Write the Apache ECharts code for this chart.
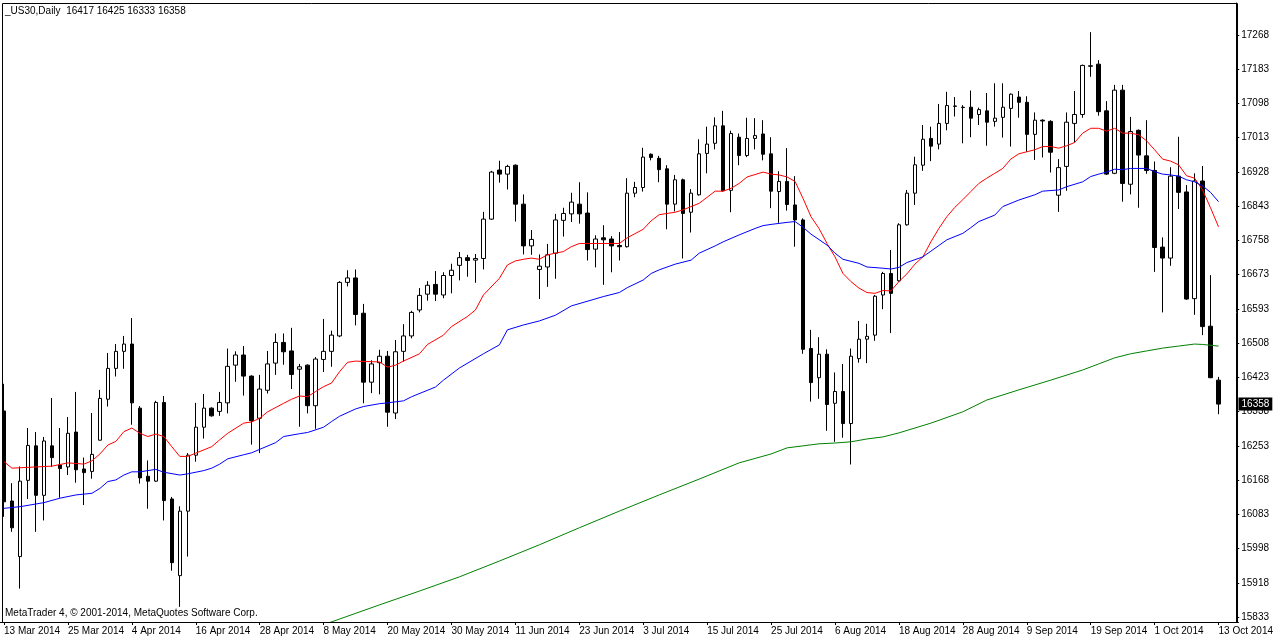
<!DOCTYPE html>
<html><head><meta charset="utf-8">
<script src="https://cdn.jsdelivr.net/npm/echarts@6/dist/echarts.min.js"></script>
<style>html,body{margin:0;padding:0;background:#fff}#c{width:1276px;height:639px}</style>
</head><body><div id="c"></div>
<script>
// ---- categories: trading days (Mon-Fri) 13 Mar 2014 .. 13 Oct 2014
const MONTHS = ['Jan','Feb','Mar','Apr','May','Jun','Jul','Aug','Sep','Oct','Nov','Dec'];
function buildDates() {
  const out = [];
  let t = Date.UTC(2014, 2, 13);
  const end = Date.UTC(2014, 9, 13);
  while (t <= end) {
    const d = new Date(t);
    const wd = d.getUTCDay();
    if (wd !== 0 && wd !== 6) out.push(d.getUTCDate() + ' ' + MONTHS[d.getUTCMonth()] + ' 2014');
    t += 86400000;
  }
  return out;
}
const dates = buildDates();

// ---- OHLC values
const opens = [16341,16119,15982,16170,16255,16133,16255,16208,16203,16289,16198,16192,16269,16370,16446,16488,16506,16348,16180,16168,
16362,16124,15935,16094,16232,16301,16348,16340,16361,16454,16479,16427,16323,16392,16459,16510,16489,16444,16454,16354,
16468,16488,16526,16658,16669,16582,16412,16460,16476,16336,16488,16526,16590,16629,16653,16627,16675,16700,16719,16713,
16717,16814,16935,16925,16947,16851,16748,16690,16696,16730,16811,16827,16851,16829,16740,16768,16765,16749,16746,16878,
16892,16974,16964,16938,16851,16911,16831,16874,16976,17001,17044,16885,17016,16971,17013,17024,16975,16882,16907,16849,
16812,16495,16423,16481,16360,16389,16310,16470,16518,16528,16627,16680,16662,16800,16878,16947,17013,16999,17050,17092,
17090,17090,17072,17081,17055,17065,17087,17115,17102,17023,17058,17055,16873,16944,17050,17072,17192,17196,17081,16927,
17132,16900,17033,16970,16934,16745,16718,16920,16881,16618,16908,16550,16417];
const highs = [16408,16163,16204,16299,16289,16277,16373,16299,16326,16388,16226,16336,16393,16484,16506,16526,16570,16353,16219,16366,
16378,16129,16106,16237,16361,16383,16350,16388,16495,16488,16501,16429,16430,16489,16532,16532,16546,16457,16456,16474,
16568,16539,16661,16688,16690,16605,16466,16492,16489,16516,16555,16588,16644,16661,16686,16683,16704,16733,16726,16728,
16832,16933,16958,16948,16949,16875,16787,16727,16753,16827,16842,16879,16905,16880,16774,16799,16772,16782,16915,16906,
16990,16976,16970,16947,16923,16914,16888,17011,17042,17065,17081,17032,17025,17064,17063,17058,17016,16932,16989,16920,
16816,16541,16523,16493,16436,16457,16495,16563,16556,16627,16684,16738,16804,16886,16968,17046,17042,17098,17128,17115,
17095,17131,17089,17125,17149,17149,17124,17130,17117,17077,17060,17058,16962,17077,17130,17195,17275,17206,17105,17145,
17145,17066,17035,17058,16956,16769,16942,17017,16898,16927,16945,16676,16425];
const lows = [16080,16043,15903,16124,16043,16071,16203,16127,16183,16164,16109,16174,16268,16352,16426,16445,16307,16162,16100,16166,
16071,15947,15858,15982,16216,16273,16327,16329,16335,16413,16379,16258,16237,16384,16430,16455,16395,16302,16335,16297,
16437,16450,16523,16648,16552,16360,16385,16382,16302,16321,16463,16520,16584,16613,16612,16619,16631,16663,16672,16657,
16690,16812,16904,16887,16808,16727,16726,16617,16647,16667,16771,16807,16803,16712,16695,16652,16683,16712,16744,16868,
16882,16959,16905,16789,16833,16717,16781,16872,16927,16986,16882,16831,16947,16967,16986,16959,16841,16805,16835,16746,
16482,16364,16371,16292,16265,16275,16209,16460,16459,16514,16592,16533,16660,16798,16849,16933,16957,16986,17033,17067,
17001,17016,17046,16995,17042,17015,16993,17064,16980,16960,16966,16929,16832,16884,17003,17064,17165,17069,16923,16925,
16857,16875,16842,16926,16684,16584,16699,16839,16615,16578,16528,16422,16333];
const closes = [16117,16053,16168,16256,16133,16267,16226,16199,16286,16196,16189,16234,16372,16446,16488,16506,16361,16176,16168,16362,
16120,15967,16094,16232,16301,16348,16329,16362,16451,16479,16427,16317,16395,16457,16510,16487,16431,16450,16354,16469,
16488,16528,16658,16669,16579,16412,16457,16476,16338,16487,16526,16584,16626,16651,16629,16675,16688,16719,16712,16717,
16814,16930,16925,16944,16851,16748,16764,16698,16726,16812,16828,16856,16827,16739,16765,16763,16748,16746,16878,16892,
16967,16966,16936,16851,16911,16828,16878,16975,16999,17044,16884,17025,16971,17013,17020,16974,16883,16907,16850,16812,
16493,16411,16481,16357,16389,16310,16476,16518,16525,16624,16680,16631,16800,16878,16948,17011,16994,17050,17094,17093,
17089,17063,17084,17053,17063,17090,17122,17102,17023,17058,17056,16979,16941,17053,17072,17193,17191,17079,16925,17132,
16902,17030,16972,16934,16744,16718,16920,16880,16617,16908,16549,16423,16358];

// ---- moving averages: [barIndex, value]
const maRed = [[0,16216],[1,16200],[4,16203],[6,16205],[8,16213],[10,16210],[11,16218],[12,16235],[13,16257],[14,16266],[15,16290],[16,16299],[17,16286],[18,16278],[19,16284],[20,16278],[21,16253],[22,16229],[23,16229],[24,16237],[26,16253],[27,16270],[28,16286],[30,16311],[31,16314],[32,16323],[33,16339],[35,16360],[36,16370],[37,16378],[38,16376],[39,16389],[40,16401],[41,16410],[42,16438],[43,16461],[44,16464],[45,16463],[47,16462],[48,16449],[49,16454],[50,16464],[52,16482],[53,16505],[55,16528],[56,16549],[58,16574],[59,16590],[60,16627],[62,16668],[63,16701],[64,16711],[65,16715],[66,16718],[67,16715],[68,16726],[70,16734],[71,16746],[72,16754],[75,16754],[77,16754],[78,16768],[80,16789],[81,16810],[82,16825],[84,16831],[85,16837],[87,16853],[88,16868],[89,16883],[90,16883],[91,16890],[92,16902],[93,16918],[95,16930],[96,16925],[97,16923],[98,16918],[99,16907],[100,16865],[101,16820],[102,16791],[103,16754],[104,16721],[105,16680],[106,16660],[107,16644],[108,16633],[109,16631],[110,16638],[111,16637],[112,16660],[113,16679],[114,16703],[115,16721],[116,16758],[117,16791],[118,16820],[119,16843],[120,16862],[121,16882],[122,16902],[123,16915],[124,16927],[125,16939],[126,16962],[127,16975],[128,16980],[129,16985],[130,16993],[131,16993],[132,16989],[133,16995],[134,17003],[135,17026],[136,17038],[137,17038],[138,17031],[139,17038],[140,17026],[141,17026],[142,17022],[143,17007],[144,16985],[145,16962],[146,16957],[147,16948],[148,16921],[149,16915],[150,16886],[151,16842],[152,16795]];
const maBlue = [[0,16101],[2,16105],[5,16115],[7,16126],[9,16134],[11,16138],[12,16150],[13,16167],[14,16171],[15,16183],[16,16191],[17,16191],[19,16197],[20,16190],[22,16183],[23,16186],[25,16194],[26,16200],[27,16210],[28,16223],[30,16233],[31,16238],[34,16263],[35,16278],[37,16285],[38,16288],[40,16301],[41,16315],[42,16328],[44,16346],[45,16352],[47,16359],[48,16361],[50,16366],[51,16376],[54,16400],[55,16417],[57,16447],[60,16482],[62,16504],[63,16541],[65,16553],[67,16563],[69,16577],[71,16600],[75,16623],[77,16633],[78,16645],[80,16664],[81,16680],[82,16689],[84,16703],[86,16713],[87,16730],[89,16748],[90,16758],[92,16775],[94,16791],[95,16798],[96,16801],[98,16806],[99,16808],[100,16794],[101,16777],[103,16750],[104,16730],[105,16715],[107,16705],[108,16696],[110,16693],[111,16691],[112,16695],[113,16707],[115,16721],[116,16735],[117,16749],[118,16763],[120,16779],[121,16793],[122,16808],[124,16824],[125,16845],[127,16861],[129,16874],[130,16883],[132,16886],[133,16894],[135,16906],[136,16919],[137,16925],[138,16930],[139,16937],[140,16936],[141,16939],[143,16939],[144,16931],[145,16925],[146,16923],[147,16920],[148,16911],[149,16906],[150,16896],[151,16880],[152,16857]];
const maGreen = [[38,15800],[40,15814],[42,15828],[47,15863],[52,15897],[57,15932],[62,15971],[67,16011],[72,16053],[77,16094],[82,16134],[87,16173],[92,16213],[96,16235],[98,16250],[100,16255],[102,16260],[104,16262],[106,16265],[108,16272],[110,16277],[112,16287],[116,16311],[120,16339],[123,16368],[127,16393],[131,16417],[135,16442],[137,16457],[139,16472],[141,16482],[143,16489],[145,16496],[147,16501],[149,16506],[150,16505],[152,16501]];

// ---- price-axis tick labels as printed by the terminal
const yTickLabels = ['15833','15918','15998','16083','16168','16253','16338','16423','16508','16593','16673','16758','16843','16928','17013','17098','17183','17268'];
const yTickBase = 15833, yTickStep = 84.412;
const yTickValues = yTickLabels.map((s, k) => yTickBase + k * yTickStep);
const lastClose = 16358;
const headerText = '_US30,Daily  16417 16425 16333 16358';
const footerText = 'MetaTrader 4, \u00A9 2001-2014, MetaQuotes Software Corp.';

const FONT = 'Liberation Sans, Arial, sans-serif';
const categories = dates.concat(['', '']);   // chart shift on the right
const candleData = opens.map((o, i) => [o, closes[i], lows[i], highs[i]]);
const showEvery8 = (idx) => idx % 8 === 0 && idx < dates.length;

const chart = echarts.init(document.getElementById('c'), null, {renderer: 'canvas'});
chart.setOption({
  animation: false,
  backgroundColor: '#ffffff',
  title: [
    {text: headerText, left: 5, top: 6, padding: 0, textStyle: {fontSize: 10, fontWeight: 'normal', color: '#000', fontFamily: FONT}},
    {text: footerText, left: 5, top: 608, padding: 0, textStyle: {fontSize: 10, fontWeight: 'normal', color: '#000', fontFamily: FONT}}
  ],
  grid: {left: -0.7, right: 36.7, top: 3, bottom: 17, containLabel: false},
  xAxis: {
    type: 'category', data: categories, boundaryGap: true,
    axisLine: {show: true, lineStyle: {color: '#000', width: 1}},
    axisTick: {show: true, interval: showEvery8, alignWithLabel: true, length: 3, lineStyle: {color: '#000'}},
    axisLabel: {interval: showEvery8, align: 'left', margin: 4, fontSize: 10, color: '#000', fontFamily: FONT},
    splitLine: {show: false}
  },
  yAxis: {
    type: 'value', position: 'right', offset: -2.3,
    min: 15820.7, max: 17346.9,
    splitLine: {show: false},
    axisLine: {show: true, lineStyle: {color: '#000', width: 1}},
    axisTick: {show: true, length: 3, customValues: yTickValues, lineStyle: {color: '#000'}},
    axisLabel: {customValues: yTickValues, margin: 5, fontSize: 10, color: '#000', fontFamily: FONT,
      formatter: (v) => yTickLabels[Math.round((v - yTickBase) / yTickStep)] || ''}
  },
  graphic: [{
    type: 'rect', silent: true, z: 50,
    shape: {x: 2.5, y: 3.5, width: 1235, height: 619},
    style: {fill: 'none', stroke: '#000', lineWidth: 1}
  }],
  series: [
    {
      type: 'candlestick', data: candleData, barWidth: 4, z: 2,
      itemStyle: {color: '#ffffff', color0: '#000000', borderColor: '#000000', borderColor0: '#000000', borderColorDoji: '#000000', borderWidth: 1},
      markLine: {
        silent: true, symbol: 'none', animation: false,
        lineStyle: {color: 'rgba(0,0,0,0)', width: 0},
        data: [{yAxis: lastClose}],
        label: {show: true, position: 'end', distance: 0, formatter: String(lastClose), color: '#fff', backgroundColor: '#000',
          padding: [2, 3, 1, 3], fontSize: 10, fontFamily: FONT}
      }
    },
    {type: 'line', data: maRed, symbol: 'none', silent: true, z: 5, lineStyle: {color: '#ff0000', width: 1}},
    {type: 'line', data: maBlue, symbol: 'none', silent: true, z: 5, lineStyle: {color: '#0000ff', width: 1}},
    {type: 'line', data: maGreen, symbol: 'none', silent: true, z: 5, lineStyle: {color: '#008000', width: 1}}
  ]
});
</script></body></html>
